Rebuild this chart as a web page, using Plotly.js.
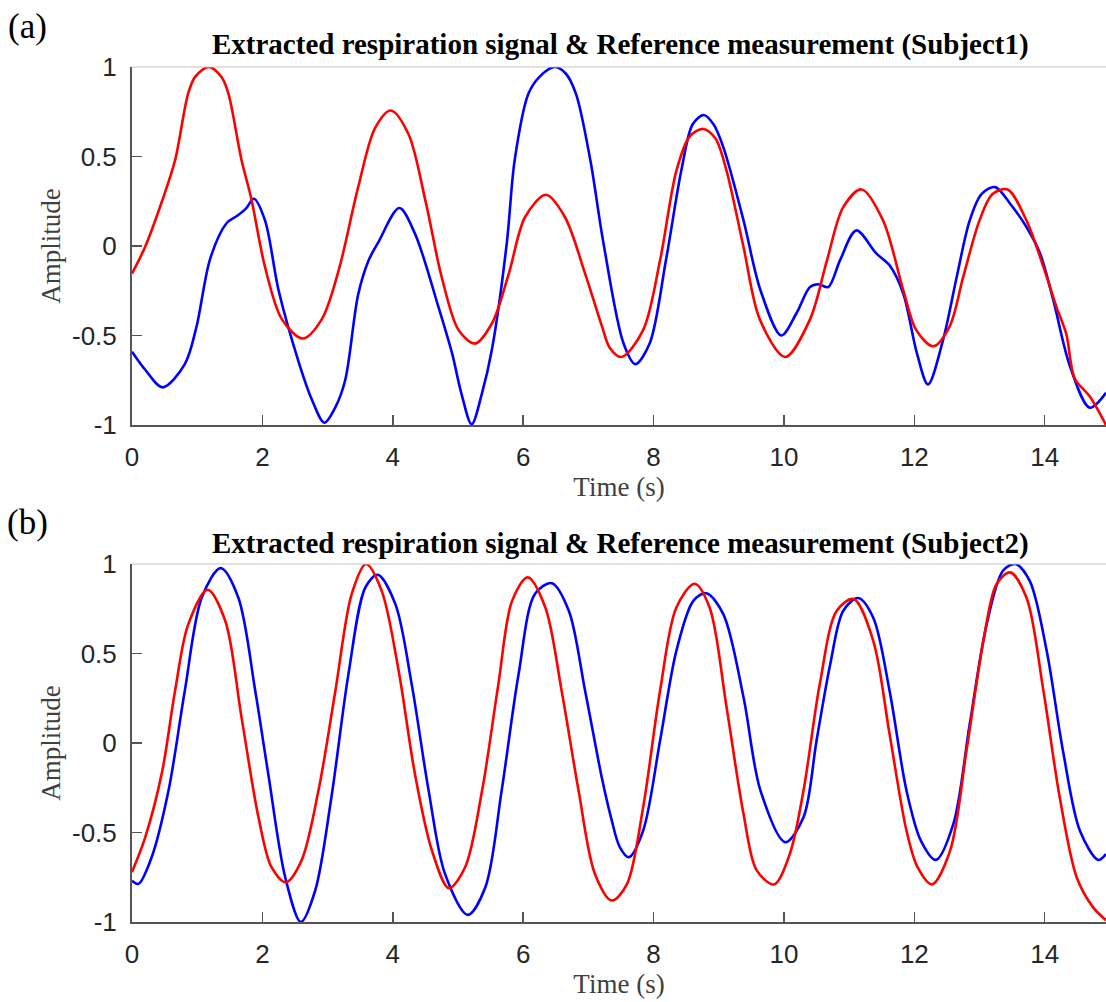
<!DOCTYPE html>
<html>
<head>
<meta charset="utf-8">
<script src="https://cdn.plot.ly/plotly-3.0.1.min.js"></script>
<style>html,body{margin:0;padding:0;background:#fff;}#chart{width:1106px;height:1002px;}</style>
</head>
<body>
<div id="chart"></div>
<script>
// ---- Subject 1 ----
const t1Red = [0, 0.2, 0.46, 0.66, 0.86, 0.97, 1.18, 1.38, 1.48, 1.68, 1.83, 2.04, 2.30, 2.62, 2.91, 3.17, 3.47, 3.73, 3.97, 4.24, 4.50, 4.75, 5.01, 5.26, 5.52, 5.78, 6.03, 6.35, 6.64, 6.95, 7.21, 7.33, 7.51, 7.84, 8.10, 8.35, 8.55, 8.76, 8.95, 9.12, 9.38, 9.63, 10.02, 10.40, 10.66, 10.91, 11.19, 11.52, 11.83, 12.03, 12.29, 12.54, 12.75, 13.00, 13.20, 13.43, 13.72, 13.98, 14.18, 14.33, 14.46, 14.69, 14.94];
const v1Red = [-0.154, -0.006, 0.25, 0.478, 0.85, 0.946, 1.0, 0.94, 0.85, 0.48, 0.264, -0.117, -0.41, -0.517, -0.41, -0.136, 0.33, 0.66, 0.757, 0.626, 0.255, -0.173, -0.47, -0.545, -0.433, -0.154, 0.162, 0.286, 0.162, -0.154, -0.45, -0.57, -0.62, -0.47, -0.08, 0.42, 0.61, 0.654, 0.6, 0.42, -0.006, -0.41, -0.62, -0.41, -0.08, 0.217, 0.316, 0.143, -0.247, -0.47, -0.56, -0.45, -0.173, 0.143, 0.29, 0.316, 0.143, -0.117, -0.34, -0.49, -0.74, -0.84, -1.0];
const t1Blue = [0, 0.2, 0.47, 0.81, 0.99, 1.20, 1.45, 1.62, 1.75, 1.87, 2.04, 2.25, 2.55, 2.75, 2.95, 3.12, 3.27, 3.47, 3.63, 3.78, 4.10, 4.34, 4.70, 4.91, 5.05, 5.21, 5.37, 5.52, 5.75, 5.87, 6.08, 6.25, 6.48, 6.65, 6.81, 7.03, 7.23, 7.54, 7.72, 7.94, 8.19, 8.43, 8.60, 8.77, 8.92, 9.07, 9.38, 9.64, 9.96, 10.19, 10.40, 10.53, 10.68, 10.86, 11.11, 11.42, 11.62, 11.83, 12.04, 12.21, 12.44, 12.65, 12.85, 13.03, 13.24, 13.47, 13.72, 13.93, 14.13, 14.39, 14.69, 14.94];
const v1Blue = [-0.59, -0.69, -0.79, -0.66, -0.45, -0.07, 0.127, 0.17, 0.21, 0.264, 0.143, -0.25, -0.64, -0.85, -0.987, -0.90, -0.75, -0.27, -0.08, 0.022, 0.212, 0.069, -0.34, -0.60, -0.82, -0.996, -0.82, -0.58, 0.02, 0.48, 0.85, 0.945, 1.0, 0.965, 0.85, 0.48, 0.02, -0.545, -0.66, -0.545, -0.08, 0.43, 0.68, 0.732, 0.68, 0.552, 0.143, -0.247, -0.5, -0.377, -0.229, -0.214, -0.229, -0.08, 0.087, -0.043, -0.108, -0.266, -0.60, -0.773, -0.526, -0.173, 0.143, 0.29, 0.329, 0.236, 0.106, -0.043, -0.30, -0.675, -0.903, -0.82];

// ---- Subject 2 ----
const t2Red = [0, 0.2, 0.46, 0.66, 0.86, 1.16, 1.43, 1.68, 1.94, 2.14, 2.36, 2.60, 2.86, 3.12, 3.37, 3.59, 3.83, 4.09, 4.34, 4.60, 4.86, 5.11, 5.37, 5.62, 5.83, 6.07, 6.34, 6.59, 6.85, 7.10, 7.36, 7.59, 7.84, 8.10, 8.35, 8.63, 8.86, 9.12, 9.38, 9.58, 9.85, 10.09, 10.30, 10.55, 10.81, 11.07, 11.37, 11.62, 11.88, 12.05, 12.27, 12.55, 12.80, 13.06, 13.26, 13.47, 13.72, 13.98, 14.23, 14.49, 14.74, 14.94];
const v2Red = [-0.72, -0.53, -0.164, 0.29, 0.66, 0.856, 0.683, 0.143, -0.415, -0.694, -0.778, -0.657, -0.266, 0.292, 0.832, 1.0, 0.85, 0.404, -0.173, -0.60, -0.811, -0.694, -0.266, 0.329, 0.794, 0.925, 0.757, 0.292, -0.266, -0.73, -0.88, -0.79, -0.36, 0.292, 0.757, 0.89, 0.757, 0.2, -0.396, -0.71, -0.79, -0.62, -0.266, 0.329, 0.739, 0.804, 0.571, 0.05, -0.49, -0.694, -0.79, -0.60, -0.043, 0.571, 0.887, 0.953, 0.813, 0.292, -0.303, -0.75, -0.917, -0.99];
const t2Blue = [0, 0.1, 0.30, 0.56, 0.81, 1.07, 1.36, 1.63, 1.89, 2.09, 2.35, 2.59, 2.81, 3.06, 3.32, 3.58, 3.77, 4.04, 4.29, 4.55, 4.80, 5.15, 5.42, 5.67, 5.93, 6.18, 6.44, 6.70, 6.95, 7.21, 7.35, 7.48, 7.62, 7.84, 8.10, 8.35, 8.61, 8.81, 9.07, 9.38, 9.64, 10.02, 10.30, 10.50, 10.71, 10.91, 11.14, 11.37, 11.62, 11.88, 12.10, 12.33, 12.60, 12.85, 13.11, 13.36, 13.55, 13.77, 14.03, 14.28, 14.54, 14.82, 14.94];
const v2Blue = [-0.77, -0.787, -0.64, -0.266, 0.292, 0.813, 0.977, 0.813, 0.292, -0.173, -0.75, -1.0, -0.824, -0.30, 0.385, 0.87, 0.94, 0.776, 0.329, -0.266, -0.73, -0.96, -0.806, -0.266, 0.385, 0.832, 0.893, 0.739, 0.292, -0.2, -0.42, -0.58, -0.638, -0.49, 0.013, 0.515, 0.794, 0.837, 0.72, 0.255, -0.266, -0.554, -0.415, 0.013, 0.44, 0.739, 0.81, 0.70, 0.292, -0.266, -0.545, -0.653, -0.45, 0.106, 0.664, 0.962, 1.0, 0.906, 0.515, -0.043, -0.49, -0.653, -0.62];

const xTicks = [0, 2, 4, 6, 8, 10, 12, 14];
const xTickText = ['0', '2', '4', '6', '8', '10', '12', '14'];
const yTicks = [-1, -0.5, 0, 0.5, 1];
const yTickText = ['-1', '-0.5', '0', '0.5', '1'];
const titles = ['Extracted respiration signal &amp; Reference measurement (Subject1)',
                'Extracted respiration signal &amp; Reference measurement (Subject2)'];
const panelLabels = ['(a)', '(b)'];
const xTitle = 'Time (s)';
const yTitle = 'Amplitude';

const lineW = 2.6;
function tr(x, y, color, xa, ya) {
  return {x: x, y: y, type: 'scatter', mode: 'lines', xaxis: xa, yaxis: ya,
          line: {color: color, width: lineW, shape: 'spline', smoothing: 0.9},
          hoverinfo: 'skip', showlegend: false};
}
const data = [
  tr(t1Blue, v1Blue, '#0000ff', 'x', 'y'),
  tr(t1Red, v1Red, '#ff0000', 'x', 'y'),
  tr(t2Blue, v2Blue, '#0000ff', 'x2', 'y2'),
  tr(t2Red, v2Red, '#ff0000', 'x2', 'y2')
];

const tickFont = {family: 'Liberation Sans, Arial, sans-serif', size: 26, color: '#262626'};
const titleFont = {family: 'Liberation Serif, Times New Roman, serif', size: 27, color: '#404040'};
function xax(anchor) {
  return {anchor: anchor, domain: [0, 1], range: [0, 14.94], tickvals: xTicks, ticktext: xTickText,
          ticks: 'inside', ticklen: 10, tickwidth: 1.5, tickcolor: '#555', showline: true,
          linecolor: '#555', linewidth: 2, showgrid: false, zeroline: false, tickfont: tickFont,
          ticklabelstandoff: 8,
          title: {text: xTitle, font: titleFont, standoff: 6}};
}
function yax(anchor, dom) {
  return {anchor: anchor, domain: dom, range: [-1, 1], tickvals: yTicks, ticktext: yTickText,
          ticks: 'inside', ticklen: 10, tickwidth: 1.5, tickcolor: '#555', showline: true,
          linecolor: '#555', linewidth: 2, showgrid: false, zeroline: false, tickfont: tickFont,
          ticklabelstandoff: 8,
          title: {text: yTitle, font: titleFont, standoff: 4}};
}
const dom1 = [1 - 425 / 1002, 1 - 67 / 1002];
const dom2 = [1 - 922 / 1002, 1 - 564 / 1002];

const headFont = {family: 'Liberation Serif, Times New Roman, serif', size: 29, color: '#000'};
const labFont = {family: 'Liberation Serif, Times New Roman, serif', size: 35, color: '#000'};
const layout = {
  width: 1106, height: 1002,
  margin: {l: 132, r: 0, t: 0, b: 0},
  paper_bgcolor: '#fff', plot_bgcolor: '#fff',
  xaxis: xax('y'), yaxis: yax('x', dom1),
  xaxis2: xax('y2'), yaxis2: yax('x2', dom2),
  shapes: [
    {type: 'line', xref: 'x domain', yref: 'y domain', x0: 0, x1: 1, y0: 1, y1: 1, line: {color: '#c4c4c4', width: 1.2}},
    {type: 'line', xref: 'x2 domain', yref: 'y2 domain', x0: 0, x1: 1, y0: 1, y1: 1, line: {color: '#c4c4c4', width: 1.2}}
  ],
  annotations: [
    {text: '<b>' + titles[0] + '</b>', xref: 'paper', yref: 'paper', x: (620 - 132) / 974, y: 1 - 45 / 1002,
     xanchor: 'center', yanchor: 'middle', showarrow: false, font: headFont},
    {text: '<b>' + titles[1] + '</b>', xref: 'paper', yref: 'paper', x: (620 - 132) / 974, y: 1 - 543 / 1002,
     xanchor: 'center', yanchor: 'middle', showarrow: false, font: headFont},
    {text: panelLabels[0], xref: 'paper', yref: 'paper', x: (27 - 132) / 974, y: 1 - 26 / 1002,
     xanchor: 'center', yanchor: 'middle', showarrow: false, font: labFont},
    {text: panelLabels[1], xref: 'paper', yref: 'paper', x: (27 - 132) / 974, y: 1 - 522 / 1002,
     xanchor: 'center', yanchor: 'middle', showarrow: false, font: labFont}
  ]
};
Plotly.newPlot('chart', data, layout, {staticPlot: true, displayModeBar: false});
</script>
</body>
</html>
